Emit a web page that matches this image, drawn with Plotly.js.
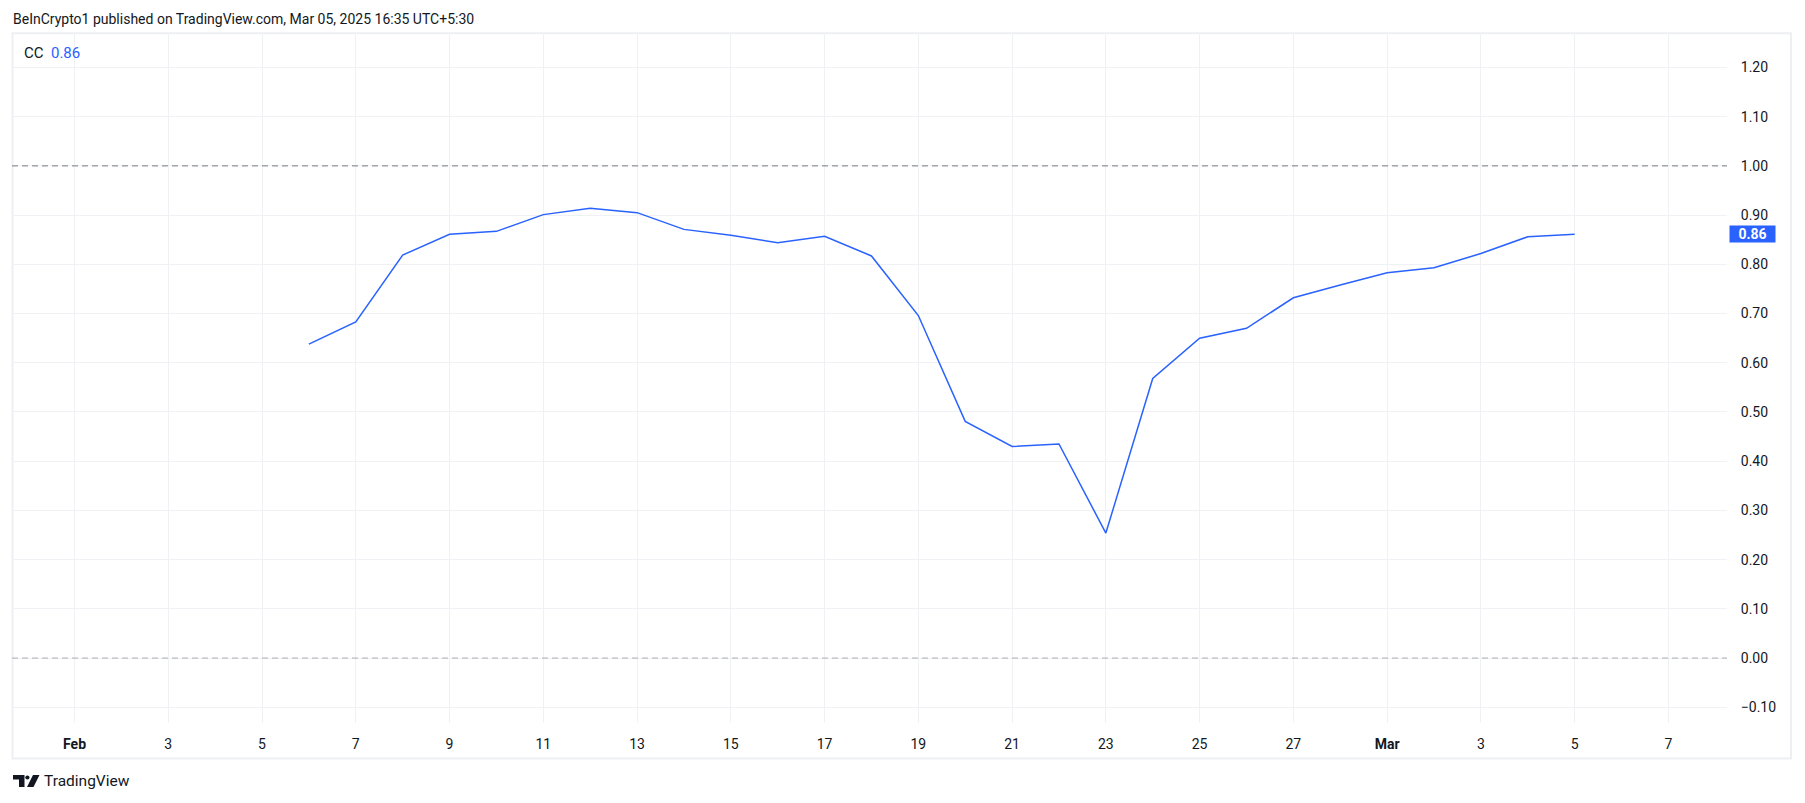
<!DOCTYPE html>
<html>
<head>
<meta charset="utf-8">
<script src="https://cdn.plot.ly/plotly-3.0.1.min.js"></script>
<style>
  html, body { margin: 0; padding: 0; background: #ffffff; }
  #chart { width: 1805px; height: 803px; }
</style>
</head>
<body>
<div id="chart"></div>
<script>
// ---- data ----
const dates = [
  '2025-02-06','2025-02-07','2025-02-08','2025-02-09','2025-02-10','2025-02-11','2025-02-12',
  '2025-02-13','2025-02-14','2025-02-15','2025-02-16','2025-02-17','2025-02-18','2025-02-19',
  '2025-02-20','2025-02-21','2025-02-22','2025-02-23','2025-02-24','2025-02-25','2025-02-26',
  '2025-02-27','2025-02-28','2025-03-01','2025-03-02','2025-03-03','2025-03-04','2025-03-05'
];
const ccValues = [
  0.638, 0.683, 0.819, 0.861, 0.867, 0.901, 0.914,
  0.905, 0.871, 0.859, 0.844, 0.857, 0.817, 0.696,
  0.481, 0.430, 0.435, 0.254, 0.568, 0.650, 0.670,
  0.732, 0.758, 0.783, 0.793, 0.822, 0.856, 0.861
];
const tickDates = [
  '2025-02-01','2025-02-03','2025-02-05','2025-02-07','2025-02-09','2025-02-11','2025-02-13',
  '2025-02-15','2025-02-17','2025-02-19','2025-02-21','2025-02-23','2025-02-25','2025-02-27',
  '2025-03-01','2025-03-03','2025-03-05','2025-03-07'
];
const tickLabels = [
  '<b>Feb</b>','3','5','7','9','11','13','15','17','19','21','23','25','27',
  '<b>Mar</b>','3','5','7'
];
const yTickVals = [-0.1, 0, 0.1, 0.2, 0.3, 0.4, 0.5, 0.6, 0.7, 0.8, 0.9, 1.0, 1.1, 1.2];
const yTickLabels = ['\u22120.10','0.00','0.10','0.20','0.30','0.40','0.50','0.60','0.70','0.80','0.90','1.00','1.10','1.20'];
const upperLevel = 1.0;
const lowerLevel = 0.0;
const seriesName = 'CC';
const headerText = 'BeInCrypto1 published on TradingView.com, Mar 05, 2025 16:35 UTC+5:30';

// ---- layout geometry (pixels) ----
const W = 1805, H = 803;
const M = { l: 12, r: 78, t: 33, b: 80 };
const PW = W - M.l - M.r, PH = H - M.t - M.b;
const px = x => (x - M.l) / PW;           // pixel -> paper x
const py = y => (H - M.b - y) / PH;       // pixel -> paper y

const FONT = 'Roboto, "Noto Sans", sans-serif';
const TEXT = '#131722';
const BLUE = '#2962ff';
const lastVal = ccValues[ccValues.length - 1];

const trace = {
  x: dates, y: ccValues, type: 'scatter', mode: 'lines',
  line: { color: BLUE, width: 1.5 }, hoverinfo: 'x+y', showlegend: false
};

const shapes = [];
// outer frame
shapes.push({ type: 'rect', xref: 'paper', yref: 'paper',
  x0: px(12.5), x1: px(1791), y0: py(758.5), y1: py(33.3),
  line: { color: '#eeeff2', width: 2 }, fillcolor: 'rgba(0,0,0,0)', layer: 'below' });
// dashed level lines
shapes.push({ type: 'line', xref: 'paper', yref: 'y', x0: 0, x1: 1, y0: upperLevel, y1: upperLevel,
  line: { color: '#787b86', width: 1, dash: '6px,4px' } });
shapes.push({ type: 'line', xref: 'paper', yref: 'y', x0: 0, x1: 1, y0: lowerLevel, y1: lowerLevel,
  line: { color: '#a9acb5', width: 1, dash: '6px,4px' } });
// TradingView logo glyph (approximation)
const lg = (pts) => 'M ' + pts.map(p => px(p[0]) + ',' + py(p[1])).join(' L ') + ' Z';
shapes.push({ type: 'path', xref: 'paper', yref: 'paper',
  path: lg([[13,775],[24.5,775],[24.5,787],[19,787],[19,779.5],[13,779.5]]),
  fillcolor: '#131722', line: { width: 0 } });
shapes.push({ type: 'circle', xref: 'paper', yref: 'paper',
  x0: px(25.3), x1: px(29.5), y0: py(779.6), y1: py(775.4),
  fillcolor: '#131722', line: { width: 0 } });
shapes.push({ type: 'path', xref: 'paper', yref: 'paper',
  path: lg([[33,775],[39.5,775],[33.5,787],[27,787]]),
  fillcolor: '#131722', line: { width: 0 } });

const annotations = [
  { xref: 'paper', yref: 'paper', x: px(11), y: py(18.5), xanchor: 'left', yanchor: 'middle',
    text: headerText, showarrow: false, font: { family: FONT, size: 14, color: TEXT } },
  { xref: 'paper', yref: 'paper', x: px(22), y: py(53), xanchor: 'left', yanchor: 'middle',
    text: seriesName + '  <span style="color:' + BLUE + '">' + lastVal.toFixed(2) + '</span>',
    showarrow: false, font: { family: FONT, size: 15, color: TEXT } },
  { xref: 'paper', yref: 'y', x: 1, y: lastVal, xanchor: 'left', yanchor: 'middle', xshift: 1.5,
    text: '<b>' + lastVal.toFixed(2) + '</b>', showarrow: false, bgcolor: BLUE,
    width: 44, height: 15, borderpad: 0.5, align: 'center',
    font: { family: FONT, size: 14, color: '#ffffff' } },
  { xref: 'paper', yref: 'paper', x: px(42), y: py(780.5), xanchor: 'left', yanchor: 'middle',
    text: 'TradingView', showarrow: false, font: { family: FONT, size: 15.5, color: TEXT } }
];

const layout = {
  width: W, height: H,
  margin: M,
  paper_bgcolor: '#ffffff', plot_bgcolor: '#ffffff',
  showlegend: false,
  font: { family: FONT, color: TEXT },
  xaxis: {
    type: 'date',
    range: ['2025-01-30 16:00', '2025-03-08 06:00'],
    tickmode: 'array', tickvals: tickDates, ticktext: tickLabels,
    showgrid: true, gridcolor: '#f0f1f4', gridwidth: 1,
    zeroline: false, showline: false,
    ticks: 'outside', ticklen: 8, tickcolor: 'rgba(0,0,0,0)',
    tickfont: { family: FONT, size: 14, color: TEXT },
    fixedrange: true
  },
  yaxis: {
    side: 'right',
    range: [-0.1319, 1.270],
    tickmode: 'array', tickvals: yTickVals, ticktext: yTickLabels,
    showgrid: true, gridcolor: '#f0f1f4', gridwidth: 1,
    zeroline: false, showline: false,
    ticks: 'outside', ticklen: 10, tickcolor: 'rgba(0,0,0,0)',
    tickfont: { family: FONT, size: 14, color: TEXT },
    fixedrange: true
  },
  shapes: shapes,
  annotations: annotations
};

Plotly.newPlot('chart', [trace], layout, { displayModeBar: false, staticPlot: true });
</script>
</body>
</html>
